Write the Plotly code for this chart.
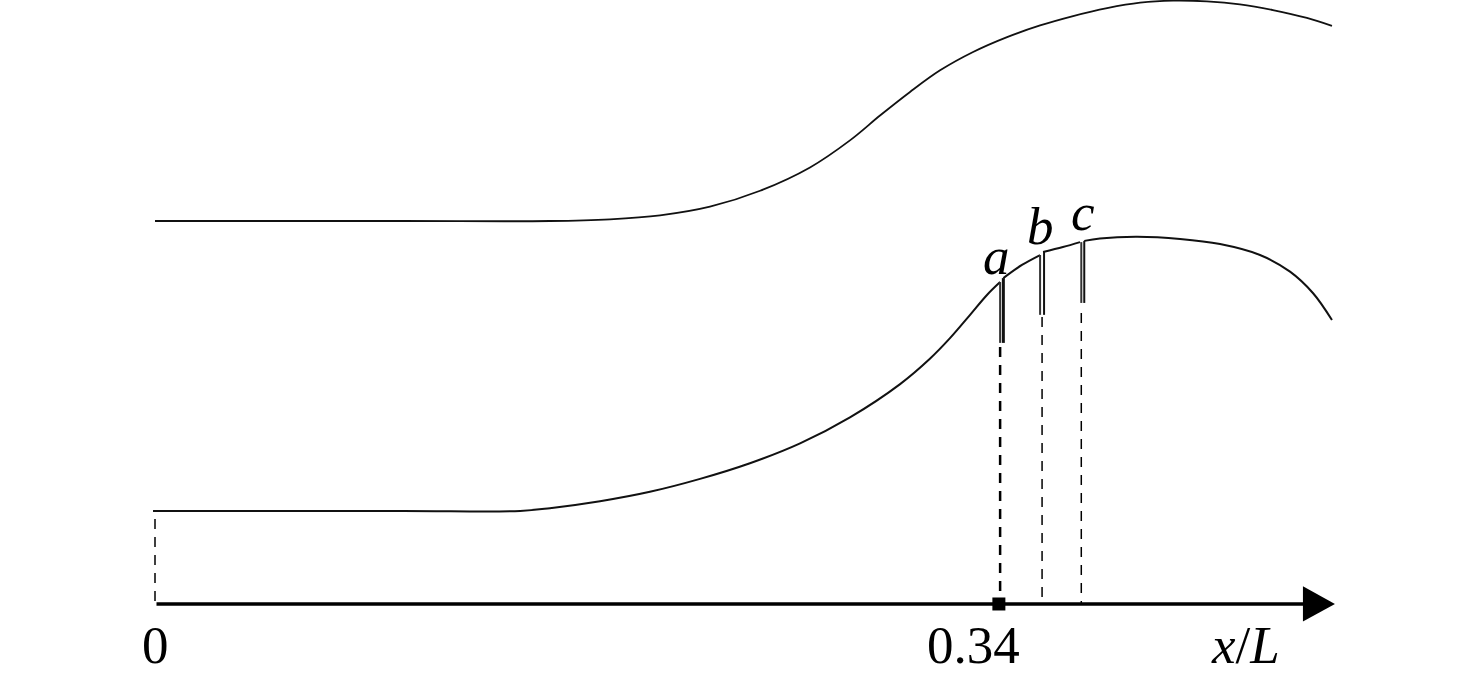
import plotly.graph_objects as go

# upper wall
upper_x = [0, .1000, .1591, .1833, .2035, .2236, .2438, .2639, .2800, .2921, .3042, .3163, .3296, .3433,
           .3566, .3699, .3836, .3969, .4102, .4238, .4371, .4504, .4641, .4742]
upper_y = [.1543, .1543, .1543, .1550, .1566, .1601, .1665, .1759, .1868, .1968, .2063, .2150, .2224, .2284,
           .2331, .2369, .2401, .2423, .2431, .2428, .2416, .2393, .2361, .2329]

# lower wall, broken at the three slots
lower_x = [-.0008, .1000, .1471, .1591, .1793, .1994, .2196, .2397, .2599, .2800, .3002, .3122, .3203, .3284, .3352, .3405, None,
           .3418, .3493, .3566, None,
           .3578, .3658, .3727, None,
           .3744, .3807, .3957, .4130, .4291, .4452, .4573, .4666, .4742]
lower_y = [.0375, .0375, .0375, .0386, .0414, .0452, .0504, .0567, .0647, .0752, .0886, .0988, .1071, .1165, .1245, .1297, None,
           .1313, .1366, .1406, None,
           .1418, .1438, .1458, None,
           .1463, .1473, .1480, .1471, .1450, .1406, .1339, .1252, .1144]

# slots: x of the two walls, top of each wall, common bottom
slot_names = ['a', 'b', 'c']
slot_left_x = [.3405, .3566, .3732]
slot_right_x = [.3418, .3582, .3744]
slot_left_top = [.1297, .1406, .1458]
slot_right_top = [.1313, .1418, .1463]
slot_bottom = [.1052, .1165, .1213]
slot_width = [3, 2, 2]

# dashed drop lines to the axis
drop_x = [0, .3405, .3574, .3732]
drop_top = [.0342, .1035, .1156, .1172]
drop_width = [1.5, 2.5, 1.5, 1.5]

axis_start = .0006
axis_end = .4630
arrow_x = [.4625, .4754, .4625]
arrow_y = [.0071, 0, -.0071]
tick_x = .34

fig = go.Figure()
fig.add_trace(go.Scatter(x=upper_x, y=upper_y, mode='lines',
                         line=dict(color='#111111', width=1.8, shape='spline', smoothing=1)))
fig.add_trace(go.Scatter(x=lower_x, y=lower_y, mode='lines',
                         line=dict(color='#111111', width=2, shape='spline', smoothing=1)))

for i in range(len(slot_names)):
    fig.add_trace(go.Scatter(x=[slot_left_x[i], slot_left_x[i]], y=[slot_left_top[i], slot_bottom[i]], mode='lines',
                             line=dict(color='#333333', width=2)))
    fig.add_trace(go.Scatter(x=[slot_right_x[i], slot_right_x[i]], y=[slot_right_top[i], slot_bottom[i]], mode='lines',
                             line=dict(color='#111111', width=slot_width[i])))

for i in range(len(drop_x)):
    fig.add_trace(go.Scatter(x=[drop_x[i], drop_x[i]], y=[drop_top[i], 0], mode='lines',
                             line=dict(color='black', width=drop_width[i], dash='10px,8px')))

# axis, arrow head and tick mark
fig.add_trace(go.Scatter(x=[axis_start, axis_end], y=[0, 0], mode='lines', line=dict(color='black', width=3.5)))
fig.add_trace(go.Scatter(x=arrow_x, y=arrow_y, mode='lines', fill='toself', fillcolor='black',
                         line=dict(color='black', width=0)))
fig.add_trace(go.Scatter(x=[tick_x], y=[0], mode='markers',
                         marker=dict(symbol='square', size=13, color='black')))

serif = dict(family='Liberation Serif', size=53, color='black')
labels = ['0', '0.34', '<i>x</i>/<i>L</i>', '<i>a</i>', '<i>b</i>', '<i>c</i>']
label_x = [0, .3296, .4392, .3392, .3566, .3740]
label_y = [-.0165, -.0165, -.0165, .1402, .1524, .1580]
for i in range(len(labels)):
    fig.add_annotation(x=label_x[i], y=label_y[i], text=labels[i], showarrow=False, font=serif,
                       xanchor='center', yanchor='middle')

fig.update_layout(
    width=1476, height=682,
    margin=dict(l=0, r=0, t=0, b=0),
    paper_bgcolor='white', plot_bgcolor='white',
    showlegend=False,
    xaxis=dict(range=[-.06245, .53223], visible=False),
    yaxis=dict(range=[-.03143, .24335], visible=False)
)

# the page's default body margin would push the figure 8px off
fig.write_html("out.html", config={'displayModeBar': False}, post_script="document.body.style.margin='0';")
